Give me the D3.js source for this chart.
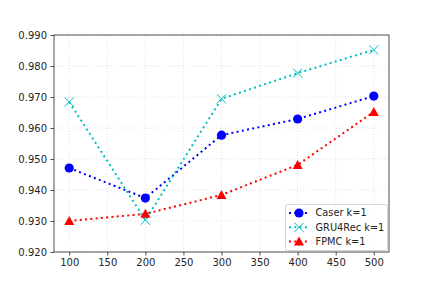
<!DOCTYPE html>
<html>
<head>
<meta charset="utf-8">
<script src="https://cdn.jsdelivr.net/npm/d3@7"></script>
<style>
  body { margin: 0; background: #fff; }
  text { font-family: "DejaVu Sans", sans-serif; }
</style>
</head>
<body>
<div id="chart"></div>
<script>
// values
const xValues = [100, 200, 300, 400, 500];
const caser = [0.9471, 0.9374, 0.9577, 0.9629, 0.9703];
const gru4rec = [0.9684, 0.9303, 0.9694, 0.9777, 0.9852];
const fpmc = [0.9300, 0.9323, 0.9384, 0.9481, 0.9652];
const xTicks = [100, 150, 200, 250, 300, 350, 400, 450, 500];
const yTicks = [0.92, 0.93, 0.94, 0.95, 0.96, 0.97, 0.98, 0.99];

const series = [
  { name: 'Caser k=1', values: caser, color: '#0000ff', marker: 'o' },
  { name: 'GRU4Rec k=1', values: gru4rec, color: '#00bfbf', marker: 'x' },
  { name: 'FPMC k=1', values: fpmc, color: '#ff0000', marker: '^' }
];

const width = 432, height = 288;
const margin = { top: 35, right: 43, bottom: 36, left: 54 };

const svg = d3.select('#chart').append('svg')
  .attr('width', width)
  .attr('height', height);

const x = d3.scaleLinear().domain([80, 520]).range([margin.left, width - margin.right]);
const y = d3.scaleLinear().domain([0.92, 0.99]).range([height - margin.bottom, margin.top]);

// grid
const grid = svg.append('g');
grid.selectAll('.gx').data(xTicks).enter().append('line')
  .attr('x1', d => x(d)).attr('x2', d => x(d))
  .attr('y1', margin.top).attr('y2', height - margin.bottom)
  .attr('stroke', '#dcdcdc').attr('stroke-width', 0.8).attr('stroke-dasharray', '1,2');
grid.selectAll('.gy').data(yTicks).enter().append('line')
  .attr('y1', d => y(d)).attr('y2', d => y(d))
  .attr('x1', margin.left).attr('x2', width - margin.right)
  .attr('stroke', '#dcdcdc').attr('stroke-width', 0.8).attr('stroke-dasharray', '1,2');

// axes
const xAxis = svg.append('g')
  .attr('transform', `translate(0,${height - margin.bottom})`)
  .call(d3.axisBottom(x).tickValues(xTicks).tickSize(3.5).tickPadding(3.5).tickFormat(d3.format('d')));
const yAxis = svg.append('g')
  .attr('transform', `translate(${margin.left},0)`)
  .call(d3.axisLeft(y).tickValues(yTicks).tickSize(3.5).tickPadding(3.5).tickFormat(d3.format('.3f')));
[xAxis, yAxis].forEach(a => {
  a.selectAll('text').attr('font-size', 10).attr('fill', '#262626').style('font-family', '"DejaVu Sans", sans-serif');
  a.selectAll('line').attr('stroke', '#262626').attr('stroke-width', 0.8);
  a.select('.domain').remove();
});

// frame
svg.append('rect')
  .attr('x', margin.left).attr('y', margin.top)
  .attr('width', width - margin.left - margin.right)
  .attr('height', height - margin.top - margin.bottom)
  .attr('fill', 'none').attr('stroke', '#262626').attr('stroke-width', 0.8);

function drawMarker(g, type, cx, cy, color) {
  if (type === 'o') {
    g.append('circle').attr('cx', cx).attr('cy', cy).attr('r', 4.6).attr('fill', color);
  } else if (type === 'x') {
    const s = 4.6;
    g.append('path')
      .attr('d', `M${cx - s},${cy - s}L${cx + s},${cy + s}M${cx - s},${cy + s}L${cx + s},${cy - s}`)
      .attr('stroke', color).attr('stroke-width', 1).attr('fill', 'none');
  } else {
    const s = 5;
    g.append('path')
      .attr('d', `M${cx},${cy - s}L${cx + s},${cy + s * 0.8}L${cx - s},${cy + s * 0.8}Z`)
      .attr('fill', color);
  }
}

const line = d3.line().x((d, i) => x(xValues[i])).y(d => y(d));

series.forEach(s => {
  const g = svg.append('g');
  g.append('path')
    .datum(s.values)
    .attr('d', line)
    .attr('fill', 'none')
    .attr('stroke', s.color)
    .attr('stroke-width', 2)
    .attr('stroke-dasharray', '2,3.3');
  s.values.forEach((v, i) => drawMarker(g, s.marker, x(xValues[i]), y(v), s.color));
});

// legend
const lg = svg.append('g');
lg.append('rect')
  .attr('x', 285.5).attr('y', 204.5).attr('width', 102).attr('height', 46)
  .attr('rx', 2).attr('fill', '#fff').attr('fill-opacity', 0.8)
  .attr('stroke', '#cccccc').attr('stroke-width', 0.8);
series.forEach((s, i) => {
  const cy = 213 + i * 14.3;
  lg.append('line')
    .attr('x1', 289).attr('x2', 309).attr('y1', cy).attr('y2', cy)
    .attr('stroke', s.color).attr('stroke-width', 2).attr('stroke-dasharray', '2,3.3');
  drawMarker(lg, s.marker, 299, cy, s.color);
  lg.append('text')
    .attr('x', 315.5).attr('y', cy).attr('dy', '0.35em')
    .attr('font-size', 9.8).attr('fill', '#262626')
    .text(s.name);
});
</script>
</body>
</html>
